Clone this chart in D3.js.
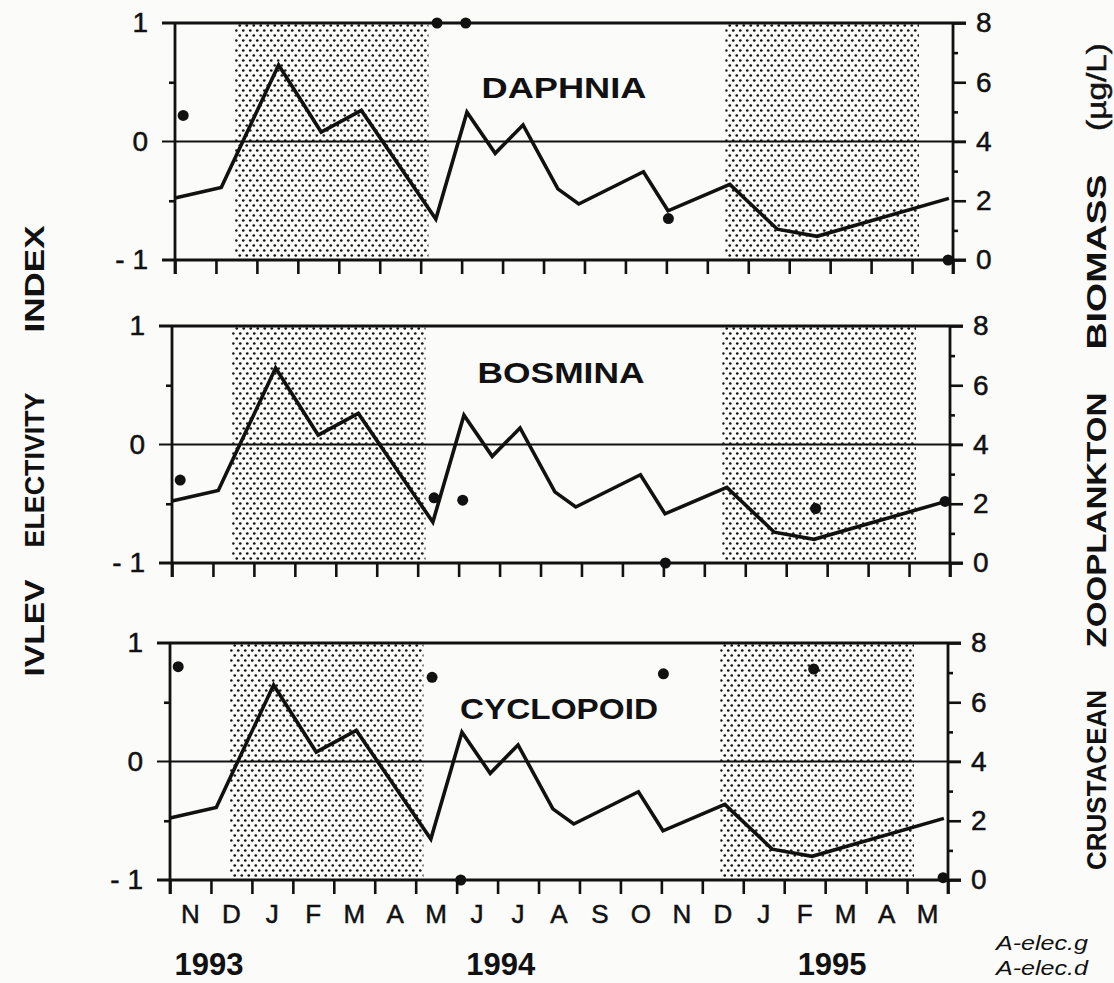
<!DOCTYPE html>
<html>
<head>
<meta charset="utf-8">
<script src="https://cdn.jsdelivr.net/npm/d3@7"></script>
<style>
  body { margin: 0; background: #fbfbfa; }
  text { font-family: "Liberation Sans", Arial, Helvetica, sans-serif; fill: #111; }
  .heavy { stroke: #111; stroke-width: 0.5px; }
</style>
</head>
<body>
<script>
// month labels, Nov 1993 .. May 1995 (one per interval)
const months = ["N","D","J","F","M","A","M","J","J","A","S","O","N","D","J","F","M","A","M"];
const years = ["1993", "1994", "1995"];
const panelNames = ["DAPHNIA", "BOSMINA", "CYCLOPOID"];

// crustacean zooplankton biomass (ug/L), sample time in months since 1 Nov 1993
const bioMonth = [0, 1.13, 2.53, 3.57, 4.55, 6.37, 7.13, 7.82, 8.5, 9.35, 9.86, 11.44, 12.04, 13.55, 14.71, 15.68, 18.9];
const biomass  = [2.09, 2.45, 6.58, 4.32, 5.05, 1.38, 4.99, 3.6, 4.56, 2.4, 1.89, 2.98, 1.66, 2.55, 1.04, 0.8, 2.08];

// Ivlev electivity index samples
const elecMonth = [0.2, 6.4, 7.1, 12.05, 15.72, 18.88];
const daphnia   = [0.22, 1.0, 1.0, -0.65, null, -1.0];
const bosmina   = [-0.30, -0.45, -0.47, -1.0, -0.54, -0.48];
const cyclopoid = [0.80, 0.71, -1.0, 0.74, 0.78, -0.98];
const electivity = [daphnia, bosmina, cyclopoid];

// ice-covered (shaded) periods, months since 1 Nov 1993
const winters = [[1.47, 6.19], [13.44, 18.17]];

// layout
const W = 778, H = 237;
const panelTop = [23, 326, 643];
const panelLeft = [175, 172, 170];
const nameY = [75, 57, 76];
const nameLen = [165, 167, 198];
const yearPos = [0.95, 8.08, 16.17];

const svg = d3.select("body").append("svg")
  .attr("width", 1114)
  .attr("height", 983);

const pat = svg.append("defs").append("pattern")
  .attr("id", "stip")
  .attr("patternUnits", "userSpaceOnUse")
  .attr("width", 7).attr("height", 10);
pat.append("circle").attr("cx", 1.75).attr("cy", 2.5).attr("r", 1.35).attr("fill", "#111");
pat.append("circle").attr("cx", 5.25).attr("cy", 7.5).attr("r", 1.35).attr("fill", "#111");

const x = d3.scaleLinear().domain([0, 19]).range([0, W]);
const yE = d3.scaleLinear().domain([-1, 1]).range([H, 0]);
const yB = d3.scaleLinear().domain([0, 8]).range([H, 0]);

const bioData = bioMonth.map((m, i) => ({ m: m, b: biomass[i] }));
const line = d3.line().x(d => x(d.m)).y(d => yB(d.b));

function styleAxis(sel, size) {
  sel.select(".domain").remove();
  sel.selectAll("line").attr("stroke", "#111").attr("stroke-width", 2.6);
  sel.selectAll("text").style("font-size", size + "px").attr("fill", "#111").attr("class", "heavy");
}

panelNames.forEach((name, p) => {
  const g = svg.append("g")
    .attr("transform", `translate(${panelLeft[p]},${panelTop[p]})`);

  g.selectAll(".winter")
    .data(winters)
    .enter().append("rect")
    .attr("class", "winter")
    .attr("x", d => x(d[0]))
    .attr("y", 0)
    .attr("width", d => x(d[1]) - x(d[0]))
    .attr("height", H)
    .attr("fill", "url(#stip)");

  // horizontal reference lines at 1, 0, -1
  g.selectAll(".hline")
    .data([1, 0, -1])
    .enter().append("line")
    .attr("x1", -13).attr("x2", W + 13)
    .attr("y1", d => yE(d)).attr("y2", d => yE(d))
    .attr("stroke", "#111")
    .attr("stroke-width", d => d === 0 ? 2.2 : 2.8);

  // bottom month ticks
  g.append("g")
    .attr("transform", `translate(0,${H})`)
    .call(d3.axisBottom(x).tickValues(d3.range(20)).tickSize(14).tickFormat(""))
    .call(s => styleAxis(s, 25));

  // left axis
  g.append("g")
    .call(d3.axisLeft(yE).tickValues([-1, 0, 1]).tickSize(0).tickPadding(27)
      .tickFormat(d => d < 0 ? "- 1" : d))
    .call(s => styleAxis(s, 28));
  g.append("g")
    .call(d3.axisLeft(yE).tickValues([-0.5, 0.5]).tickSize(6).tickFormat(""))
    .call(s => styleAxis(s, 28));

  // right axis
  g.append("g")
    .attr("transform", `translate(${W},0)`)
    .call(d3.axisRight(yB).tickValues([0, 2, 4, 6, 8]).tickSize(13).tickPadding(10))
    .call(s => styleAxis(s, 28));
  g.append("g")
    .attr("transform", `translate(${W},0)`)
    .call(d3.axisRight(yB).tickValues([1, 3, 5, 7]).tickSize(5).tickFormat(""))
    .call(s => styleAxis(s, 28));

  g.selectAll(".vaxis")
    .data([0, 19])
    .enter().append("line")
    .attr("x1", d => x(d)).attr("x2", d => x(d))
    .attr("y1", 0).attr("y2", H + 14)
    .attr("stroke", "#111")
    .attr("stroke-width", 2.8);

  g.append("path")
    .datum(bioData)
    .attr("d", line)
    .attr("fill", "none")
    .attr("stroke", "#111")
    .attr("stroke-width", 3.6)
    .attr("stroke-linejoin", "miter");

  const pts = elecMonth.map((m, i) => ({ m: m, e: electivity[p][i] })).filter(d => d.e !== null);
  g.selectAll(".dot")
    .data(pts)
    .enter().append("circle")
    .attr("class", "dot")
    .attr("cx", d => x(d.m))
    .attr("cy", d => yE(d.e))
    .attr("r", 5.5)
    .attr("fill", "#111");

  g.append("text")
    .attr("x", W / 2)
    .attr("y", nameY[p])
    .attr("text-anchor", "middle")
    .attr("textLength", nameLen[p])
    .attr("lengthAdjust", "spacingAndGlyphs")
    .style("font-size", "30px")
    .style("font-weight", "bold")
    .text(name);

  if (p === 2) {
    g.selectAll(".month")
      .data(months)
      .enter().append("text")
      .attr("class", "heavy")
      .attr("x", (d, i) => x(i + 0.5))
      .attr("y", H + 43)
      .attr("text-anchor", "middle")
      .style("font-size", "26px")
      .text(d => d);

    g.selectAll(".year")
      .data(years)
      .enter().append("text")
      .attr("x", (d, i) => x(yearPos[i]))
      .attr("y", H + 95)
      .attr("text-anchor", "middle")
      .style("font-size", "31px")
      .style("font-weight", "bold")
      .text(d => d);
  }
});

// left title
const leftWords = [["IVLEV", 628, 97], ["ELECTIVITY", 470, 155], ["INDEX", 279, 107]];
leftWords.forEach(w => {
  svg.append("text")
    .attr("transform", `translate(44,${w[1]}) rotate(-90)`)
    .attr("text-anchor", "middle")
    .attr("textLength", w[2])
    .attr("lengthAdjust", "spacingAndGlyphs")
    .style("font-size", "28px")
    .style("font-weight", "bold")
    .text(w[0]);
});

// right title
const rightWords = [["CRUSTACEAN", 780, 180, "bold"], ["ZOOPLANKTON", 520, 255, "bold"], ["BIOMASS", 262, 175, "bold"], ["(\u00b5g/L)", 87, 88, "normal"]];
rightWords.forEach(w => {
  svg.append("text")
    .attr("transform", `translate(1106,${w[1]}) rotate(-90)`)
    .attr("text-anchor", "middle")
    .attr("textLength", w[2])
    .attr("lengthAdjust", "spacingAndGlyphs")
    .attr("class", w[3] === "normal" ? "heavy" : null)
    .style("font-size", "28px")
    .style("font-weight", w[3])
    .text(w[0]);
});

// file tags
[["A-elec.g", 950], ["A-elec.d", 975]].forEach(t => {
  svg.append("text")
    .attr("x", 1088)
    .attr("y", t[1])
    .attr("text-anchor", "end")
    .attr("textLength", 92)
    .attr("lengthAdjust", "spacingAndGlyphs")
    .style("font-size", "21px")
    .style("font-style", "italic")
    .text(t[0]);
});
</script>
</body>
</html>
